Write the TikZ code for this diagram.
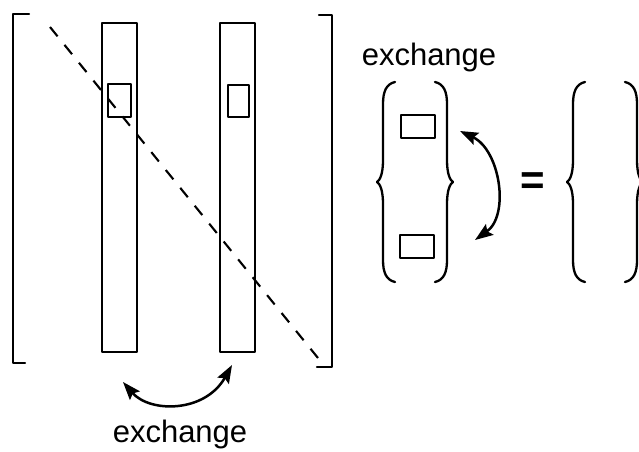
\documentclass[tikz,border=0pt]{standalone}
\usepackage{fontspec}
\setmainfont{Liberation Sans}
\usetikzlibrary{arrows.meta}

\tikzset{
  ink/.style={line width=2.3pt, line cap=round, line join=round},
  colbox/.style={ink, draw, rectangle, inner sep=0pt, minimum width=35pt, minimum height=329pt},
  elem/.style={ink, draw, rectangle, inner sep=0pt},
  diagline/.style={line width=2.1pt, dash pattern=on 12pt off 11pt},
  swap/.style={line width=2.5pt, {Stealth[length=18pt,width=13pt,inset=3pt]}-{Stealth[length=18pt,width=13pt,inset=3pt]}},
  label/.style={font=\fontsize{31}{31}\selectfont, anchor=base, inner sep=0pt},
  pics/curlybrace/.style={code={
    \draw[ink] (18,-100) .. controls (9,-98) and (6,-90) .. (6,-78) -- (6,-22)
      .. controls (6,-8) and (3,-2) .. (0,0)
      .. controls (3,2) and (6,8) .. (6,22) -- (6,78)
      .. controls (6,90) and (9,98) .. (18,100);
  }}
}

\begin{document}
\begin{tikzpicture}[x=1pt, y=-1pt]
\useasboundingbox (0,0) rectangle (639,451);
\clip (0,0) rectangle (639,451);

% outer matrix brackets
\draw[ink] (29,14) -- (13,14) -- (13,363) -- (25,363);
\draw[ink] (319,15) -- (332,15) -- (332,367) -- (317,367);

% the two columns and their marked entries
\node[colbox] (c1) at (119.5,187.5) {};
\node[colbox] (c2) at (237.5,187.5) {};
\node[elem, minimum width=23pt, minimum height=33pt] (e1) at (119.5,100.5) {};
\node[elem, minimum width=21pt, minimum height=32pt] (e2) at (238.5,101) {};

% main diagonal
\coordinate (d1) at (50,27);
\coordinate (d2) at (318,358);
\draw[diagline] (d1) -- (d2);

% column exchange
\coordinate (a1) at (123,382);
\coordinate (a2) at (232,365);
\draw[swap] (a1) .. controls (150,413) and (205,413) .. (a2);
\node[label] (t1) at (180,442) {exchange};

% element exchange inside a column
\node[label] (t2) at (429,65) {exchange};
\pic at (377,182) {curlybrace};
\pic[xscale=-1] at (453,182) {curlybrace};
\node[elem, minimum width=34pt, minimum height=23pt] (e3) at (418,126.5) {};
\node[elem, minimum width=34pt, minimum height=23pt] (e4) at (417,246.5) {};
\coordinate (b1) at (460,131);
\coordinate (b2) at (475,240);
\draw[swap] (b1) .. controls (500,150) and (510,215) .. (b2);

\node[font=\fontsize{42}{42}\selectfont\bfseries, inner sep=0pt] (eq) at (533,184) {=};

% resulting column
\pic at (567,182) {curlybrace};
\pic[xscale=-1] at (643,182) {curlybrace};
\end{tikzpicture}
\end{document}
